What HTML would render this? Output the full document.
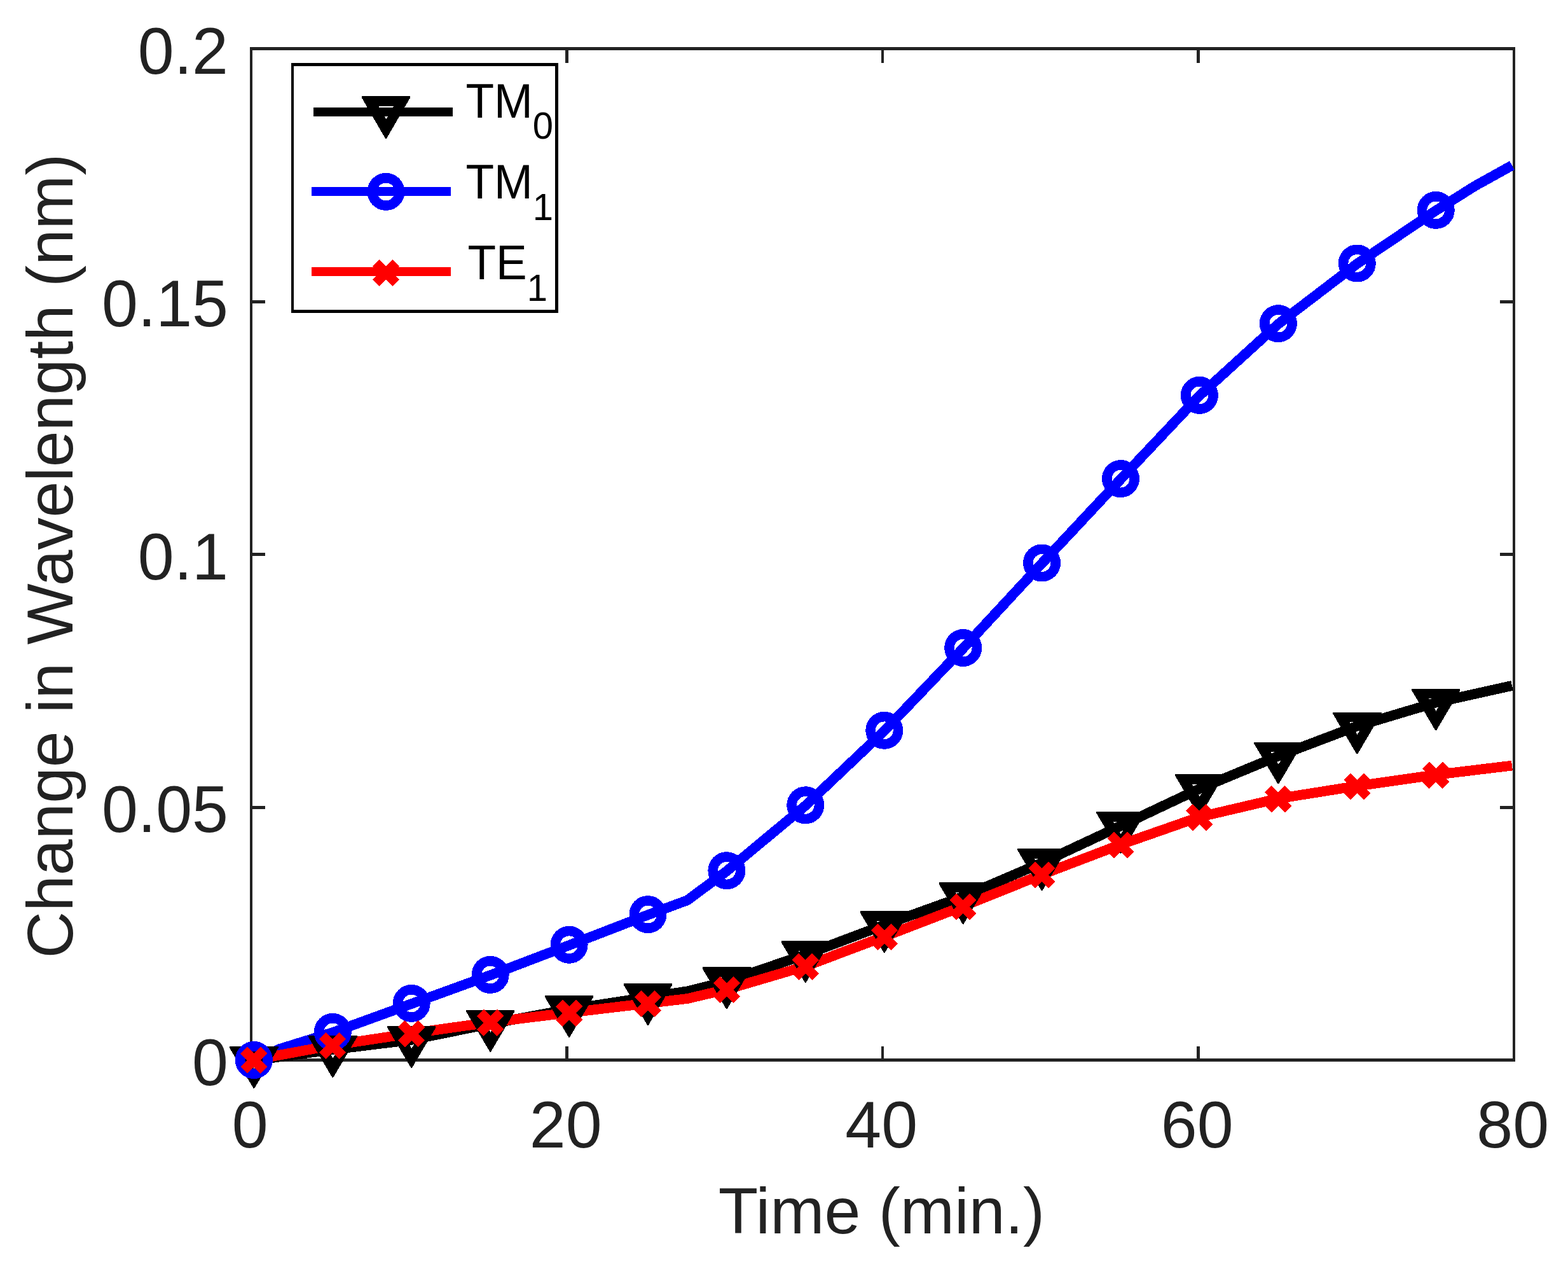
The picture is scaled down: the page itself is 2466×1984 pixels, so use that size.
<!DOCTYPE html>
<html lang="en"><head><meta charset="utf-8"><title>Change in Wavelength vs Time</title>
<style>
html,body{margin:0;padding:0;background:#fff;}
body{width:2466px;height:1984px;overflow:hidden;}
svg{display:block;}
text{font-family:"Liberation Sans",sans-serif;}
.tk{font-size:102.3px;fill:#222222;}
.lg{font-size:73px;fill:#000;}
.sb{font-size:58px;fill:#000;}
</style></head><body>
<svg width="2466" height="1984" viewBox="0 0 2466 1984">
<rect width="2466" height="1984" fill="#fff"/>
<g fill="#222222" shape-rendering="crispEdges">
<rect x="393" y="74" width="4" height="1595"/>
<rect x="2379" y="74" width="4" height="1595"/>
<rect x="393" y="74" width="1990" height="5"/>
<rect x="393" y="1664" width="1990" height="5"/>
<rect x="889" y="1645" width="5" height="20"/>
<rect x="889" y="78" width="5" height="21"/>
<rect x="1386" y="1645" width="4" height="20"/>
<rect x="1386" y="78" width="4" height="21"/>
<rect x="1882" y="1645" width="5" height="20"/>
<rect x="1882" y="78" width="5" height="21"/>
<rect x="396" y="472" width="21" height="5"/>
<rect x="2359" y="472" width="21" height="5"/>
<rect x="396" y="869" width="21" height="5"/>
<rect x="2359" y="869" width="21" height="5"/>
<rect x="396" y="1267" width="21" height="5"/>
<rect x="2359" y="1267" width="21" height="5"/>
</g>
<g class="tk" text-anchor="end">
<text transform="translate(359 115.6) scale(1 1.024)">0.2</text>
<text transform="translate(359 513.1) scale(1 1.024)">0.15</text>
<text transform="translate(359 910.6) scale(1 1.024)">0.1</text>
<text transform="translate(359 1308.1) scale(1 1.024)">0.05</text>
<text transform="translate(359 1705.6) scale(1 1.024)">0</text>
</g>
<g class="tk" text-anchor="middle">
<text transform="translate(393.2 1804.4) scale(1 1.024)">0</text>
<text transform="translate(889.7 1804.4) scale(1 1.024)">20</text>
<text transform="translate(1386.2 1804.4) scale(1 1.024)">40</text>
<text transform="translate(1882.7 1804.4) scale(1 1.024)">60</text>
<text transform="translate(2379.2 1804.4) scale(1 1.024)">80</text>
<text x="1386.5" y="1938.8">Time (min.)</text>
<text style="font-size:101.9px" transform="translate(113.8 874) rotate(-90)">Change in Wavelength (nm)</text>
</g>
<g fill="none" stroke-width="15.8" stroke-linejoin="round" shape-rendering="crispEdges">
<polyline stroke="#000" points="399.4,1667.0 523.3,1650.0 647.2,1634.8 771.2,1609.5 895.1,1586.8 1019.0,1567.8 1081.0,1558.3 1142.9,1542.8 1266.8,1500.8 1390.8,1454.1 1514.7,1409.5 1638.6,1356.4 1762.5,1298.4 1886.4,1240.0 2010.4,1188.5 2134.3,1141.5 2258.2,1104.5 2378.0,1077.9"/>
<polyline stroke="#00f" points="399.4,1667.2 440.0,1649.0 523.3,1623.1 647.2,1578.1 771.2,1533.1 895.1,1486.0 1019.0,1438.3 1081.0,1415.3 1142.9,1369.4 1266.8,1266.5 1390.8,1149.0 1514.7,1019.2 1638.6,885.7 1762.5,753.3 1886.4,622.1 2010.4,509.3 2134.3,414.7 2258.2,331.1 2320.0,292.2 2378.0,260.0"/>
<polyline stroke="#f00" points="399.4,1666.1 523.3,1643.3 647.2,1624.5 771.2,1607.1 895.1,1592.0 1019.0,1577.3 1081.0,1570.0 1142.9,1555.5 1266.8,1519.0 1390.8,1472.4 1514.7,1424.7 1638.6,1374.9 1762.5,1327.7 1886.4,1284.4 2010.4,1255.4 2134.3,1235.7 2258.2,1218.0 2378.0,1203.6"/>
</g>
<g fill="#000" fill-rule="evenodd" shape-rendering="crispEdges">
<path d="M361.2 1645.1H437.6V1647.6L400.2 1711.0H398.6L361.2 1647.6ZM387.7 1661.0L399.7 1680.3L411.6 1661.0Z"/>
<path d="M485.1 1628.1H561.5V1630.6L524.1 1694.0H522.5L485.1 1630.6ZM511.6 1644.0L523.6 1663.3L535.5 1644.0Z"/>
<path d="M609.0 1612.9H685.4V1615.4L648.0 1678.8H646.4L609.0 1615.4ZM635.5 1628.8L647.5 1648.1L659.4 1628.8Z"/>
<path d="M733.0 1587.7H809.4V1590.2L772.0 1653.6H770.4L733.0 1590.2ZM759.5 1603.6L771.5 1622.9L783.4 1603.6Z"/>
<path d="M856.9 1564.9H933.3V1567.4L895.9 1630.8H894.3L856.9 1567.4ZM883.4 1580.8L895.4 1600.1L907.3 1580.8Z"/>
<path d="M980.8 1545.9H1057.2V1548.4L1019.8 1611.8H1018.2L980.8 1548.4ZM1007.3 1561.8L1019.3 1581.1L1031.2 1561.8Z"/>
<path d="M1104.7 1520.3H1181.1V1522.8L1143.7 1586.2H1142.1L1104.7 1522.8ZM1131.2 1536.2L1143.2 1555.5L1155.1 1536.2Z"/>
<path d="M1228.6 1478.9H1305.0V1481.4L1267.6 1544.8H1266.0L1228.6 1481.4ZM1255.1 1494.8L1267.1 1514.1L1279.0 1494.8Z"/>
<path d="M1352.6 1432.1H1429.0V1434.6L1391.6 1498.0H1390.0L1352.6 1434.6ZM1379.1 1448.0L1391.1 1467.3L1403.0 1448.0Z"/>
<path d="M1476.5 1387.0H1552.9V1389.5L1515.5 1452.9H1513.9L1476.5 1389.5ZM1503.0 1402.9L1515.0 1422.2L1526.9 1402.9Z"/>
<path d="M1600.4 1334.4H1676.8V1336.9L1639.4 1400.3H1637.8L1600.4 1336.9ZM1626.9 1350.3L1638.9 1369.6L1650.8 1350.3Z"/>
<path d="M1724.3 1275.9H1800.7V1278.4L1763.3 1341.8H1761.7L1724.3 1278.4ZM1750.8 1291.8L1762.8 1311.1L1774.7 1291.8Z"/>
<path d="M1848.2 1217.2H1924.6V1219.7L1887.2 1283.1H1885.6L1848.2 1219.7ZM1874.7 1233.1L1886.7 1252.4L1898.6 1233.1Z"/>
<path d="M1972.2 1166.5H2048.6V1169.0L2011.2 1232.4H2009.6L1972.2 1169.0ZM1998.7 1182.4L2010.7 1201.7L2022.6 1182.4Z"/>
<path d="M2096.1 1119.5H2172.5V1122.0L2135.1 1185.4H2133.5L2096.1 1122.0ZM2122.6 1135.4L2134.6 1154.7L2146.5 1135.4Z"/>
<path d="M2220.0 1082.5H2296.4V1085.0L2259.0 1148.4H2257.4L2220.0 1085.0ZM2246.5 1098.4L2258.5 1117.7L2270.4 1098.4Z"/>
</g>
<g fill="none" stroke="#00f" stroke-width="15.6" shape-rendering="crispEdges">
<circle cx="399.4" cy="1666.5" r="21.7"/>
<circle cx="523.3" cy="1622.4" r="21.7"/>
<circle cx="647.2" cy="1577.4" r="21.7"/>
<circle cx="771.2" cy="1532.4" r="21.7"/>
<circle cx="895.1" cy="1485.3" r="21.7"/>
<circle cx="1019.0" cy="1437.6" r="21.7"/>
<circle cx="1142.9" cy="1368.7" r="21.7"/>
<circle cx="1266.8" cy="1265.8" r="21.7"/>
<circle cx="1390.8" cy="1148.3" r="21.7"/>
<circle cx="1514.7" cy="1018.5" r="21.7"/>
<circle cx="1638.6" cy="885.0" r="21.7"/>
<circle cx="1762.5" cy="752.6" r="21.7"/>
<circle cx="1886.4" cy="621.4" r="21.7"/>
<circle cx="2010.4" cy="508.6" r="21.7"/>
<circle cx="2134.3" cy="414.0" r="21.7"/>
<circle cx="2258.2" cy="330.4" r="21.7"/>
</g>
<g fill="none" stroke="#f00" stroke-width="15" shape-rendering="crispEdges">
<path d="M383.6 1651.0L415.2 1682.6M383.6 1682.6L415.2 1651.0"/>
<path d="M507.5 1628.2L539.1 1659.8M507.5 1659.8L539.1 1628.2"/>
<path d="M631.4 1609.4L663.0 1641.0M631.4 1641.0L663.0 1609.4"/>
<path d="M755.4 1592.0L787.0 1623.6M755.4 1623.6L787.0 1592.0"/>
<path d="M879.3 1576.9L910.9 1608.5M879.3 1608.5L910.9 1576.9"/>
<path d="M1003.2 1562.2L1034.8 1593.8M1003.2 1593.8L1034.8 1562.2"/>
<path d="M1127.1 1540.4L1158.7 1572.0M1127.1 1572.0L1158.7 1540.4"/>
<path d="M1251.0 1503.9L1282.6 1535.5M1251.0 1535.5L1282.6 1503.9"/>
<path d="M1375.0 1457.3L1406.6 1488.9M1375.0 1488.9L1406.6 1457.3"/>
<path d="M1498.9 1409.6L1530.5 1441.2M1498.9 1441.2L1530.5 1409.6"/>
<path d="M1622.8 1359.8L1654.4 1391.4M1622.8 1391.4L1654.4 1359.8"/>
<path d="M1746.7 1312.6L1778.3 1344.2M1746.7 1344.2L1778.3 1312.6"/>
<path d="M1870.6 1269.3L1902.2 1300.9M1870.6 1300.9L1902.2 1269.3"/>
<path d="M1994.6 1240.3L2026.2 1271.9M1994.6 1271.9L2026.2 1240.3"/>
<path d="M2118.5 1220.6L2150.1 1252.2M2118.5 1252.2L2150.1 1220.6"/>
<path d="M2242.4 1202.9L2274.0 1234.5M2242.4 1234.5L2274.0 1202.9"/>
</g>
<g shape-rendering="crispEdges">
<rect x="460.2" y="101.7" width="415.4" height="387.8" fill="#fff" stroke="#000" stroke-width="4.5"/>
<rect x="493" y="169" width="219" height="14" fill="#000"/>
<rect x="490" y="294" width="219" height="14" fill="#00f"/>
<rect x="490" y="420" width="219" height="14" fill="#f00"/>
<g fill="#000" fill-rule="evenodd"><path d="M568.8 151.0H645.2V153.5L607.8 218.1H606.2L568.8 153.5ZM595.3 166.9L607.3 187.4L619.2 166.9Z"/></g>
<g fill="none" stroke="#00f" stroke-width="15.6"><circle cx="607.0" cy="301.4" r="21.7"/></g>
<g fill="none" stroke="#f00" stroke-width="15"><path d="M591.2 413.2L622.8 444.8M591.2 444.8L622.8 413.2"/></g>
</g>
<text class="lg" transform="translate(732.5 184.9) scale(1 1.035)">TM<tspan class="sb" dy="32.2">0</tspan></text>
<text class="lg" transform="translate(732.5 312) scale(1 1.035)">TM<tspan class="sb" dy="32.6">1</tspan></text>
<text class="lg" transform="translate(735.4 438.9) scale(1 1.035)">TE<tspan class="sb" dy="33.4">1</tspan></text>
</svg></body></html>
